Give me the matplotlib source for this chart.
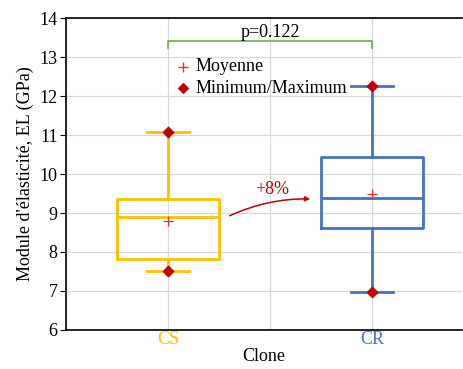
import matplotlib.pyplot as plt
from matplotlib.patches import FancyArrowPatch

plt.rcParams['font.family'] = ['Liberation Serif', 'DejaVu Serif']

clones = ["CS", "CR"]
colors = ["#FFC000", "#4472C4"]
mins = [7.52, 6.97]
q1 = [7.81, 8.61]
medians = [8.90, 9.39]
q3 = [9.36, 10.44]
maxs = [11.08, 12.26]
means = [8.80, 9.50]
p_text = "p=0.122"
gain_text = "+8%"

fs = 13
fig = plt.figure(figsize=(4.63, 3.69), dpi=100)
ax = fig.add_axes([0.1425, 0.1057, 0.855, 0.8455])

positions = [0, 2]

for i in range(2):
    stats = [dict(med=medians[i], q1=q1[i], q3=q3[i], whislo=mins[i], whishi=maxs[i], label=clones[i])]
    c = colors[i]
    ax.bxp(stats, positions=[positions[i]], widths=1.0, showfliers=False, manage_ticks=False,
           boxprops=dict(color=c, linewidth=2),
           medianprops=dict(color=c, linewidth=2),
           whiskerprops=dict(color=c, linewidth=2),
           capprops=dict(color=c, linewidth=2), capwidths=0.42)

ax.set_xlim(-1, 2.88)
ax.set_ylim(6, 14)
ax.set_yticks(range(6, 15))
ax.set_xticks([0, 1, 2])
ax.grid(True, axis="both", color="#d9d9d9", linewidth=0.9)
ax.set_axisbelow(True)

ax.scatter(positions, means, marker="+", color="#E03030", s=50, linewidth=0.9, zorder=5)
ax.scatter(positions, mins, marker="D", color="#C00000", s=28, zorder=5)
ax.scatter(positions, maxs, marker="D", color="#C00000", s=28, zorder=5)

# significance bracket
ax.plot([0, 0, 2, 2], [13.22, 13.40, 13.40, 13.22], color="#70AD47", linewidth=1.2)
ax.text(1, 13.42, p_text, ha="center", va="bottom", fontsize=fs)

# legend
ax.scatter([0.15], [12.75], marker="+", color="#E03030", s=45, linewidth=1)
ax.text(0.27, 12.75, "Moyenne", va="center", fontsize=fs)
ax.scatter([0.15], [12.2], marker="D", color="#C00000", s=24)
ax.text(0.27, 12.2, "Minimum/Maximum", va="center", fontsize=fs)

# increase arrow
arr = FancyArrowPatch((0.58, 8.90), (1.42, 9.36), connectionstyle="arc3,rad=-0.12",
                      arrowstyle="-|>", mutation_scale=7, color="#C00000", linewidth=1.1)
ax.add_patch(arr)
ax.text(1.02, 9.6, gain_text, ha="center", va="center", color="#C00000", fontsize=fs)

ax.set_xticklabels(["CS", "", "CR"], fontsize=fs)
for lbl, c in zip([ax.get_xticklabels()[0], ax.get_xticklabels()[2]], colors):
    lbl.set_color(c)
ax.tick_params(axis="x", length=0, pad=1)
ax.tick_params(axis="y", labelsize=fs, direction="out", length=4, pad=2)
ax.spines["right"].set_visible(False)
for s in ["left", "bottom", "top"]:
    ax.spines[s].set_linewidth(1.2)

ax.set_xlabel("Clone", fontsize=fs, labelpad=0)
ax.set_ylabel("Module d'élasticité, EL (GPa)", fontsize=fs, labelpad=4)

fig.savefig("out.png", dpi=100)
